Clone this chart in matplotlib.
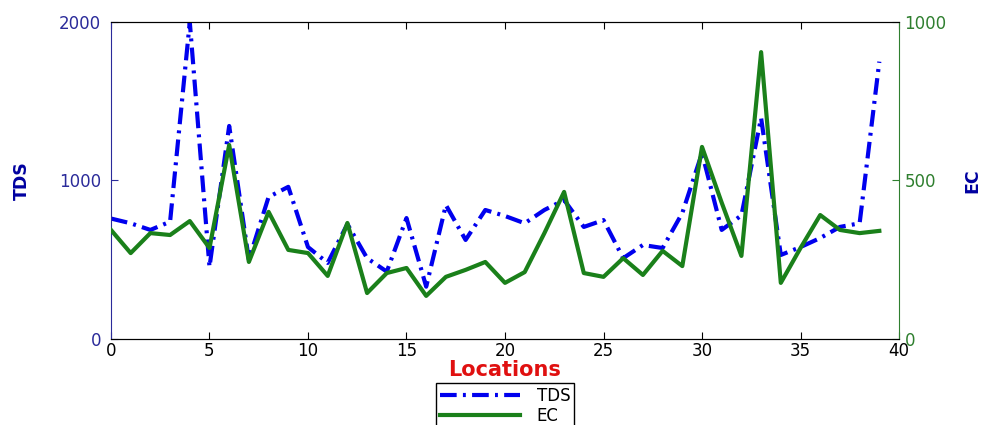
import matplotlib
matplotlib.use("Agg")
import matplotlib.pyplot as plt
import numpy as np

plt.rcParams['font.family'] = ['DejaVu Sans']

# dane: 40 lokalizacji, TDS (lewa oś) i EC (prawa oś)
locations = np.arange(40)
tds = [760, 730, 688, 740, 2000, 455, 1344, 500, 896, 960,
       580, 480, 725, 510, 425, 763, 330, 845, 625, 814,
       776, 730, 814, 877, 707, 750, 510, 593, 574, 795,
       1173, 688, 780, 1394, 530, 580, 637, 707, 730, 1750]
ec = [344, 271, 334, 328, 372, 287, 612, 243, 401, 281,
      271, 199, 366, 145, 208, 224, 136, 196, 218, 243,
      177, 211, 334, 464, 208, 196, 255, 202, 278, 230,
      606, 430, 262, 905, 177, 287, 391, 344, 334, 341]

left_color = '#2b2b9a'
right_color = '#2f7f2f'

fig = plt.figure(figsize=(9.9, 4.25), dpi=100)
ax = fig.add_axes([0.1121, 0.2024, 0.7960, 0.7458])
ax2 = ax.twinx()

l1, = ax.plot(locations, tds, color='#0000ee', lw=3,
              linestyle=(0, (4, 1.5, 0.7, 1.5)), label='TDS')
l2, = ax2.plot(locations, ec, color='#1a801a', lw=3, label='EC')

ax.set_xlim(0, 40)
ax.set_ylim(0, 2000)
ax2.set_ylim(0, 1000)
ax.set_xticks(range(0, 41, 5))
ax.set_yticks([0, 1000, 2000])
ax2.set_yticks([0, 500, 1000])

ax.tick_params(axis='x', direction='in', top=True, colors='black',
               labelsize=12, length=5, pad=2)
ax.tick_params(axis='y', direction='in', colors=left_color,
               labelsize=12, length=5, pad=7)
ax2.tick_params(axis='y', direction='in', colors=right_color,
                labelsize=12, length=5, pad=4)
ax2.tick_params(axis='x', top=False)

ax.spines['left'].set_color(left_color)
ax2.spines['left'].set_visible(False)
ax2.spines['right'].set_color(right_color)
ax.spines['right'].set_visible(False)

ax.set_ylabel('TDS', color='#0000a0', fontsize=12.5, fontweight='bold', labelpad=20)
ax2.set_ylabel('EC', color='#0000a0', fontsize=12.5, fontweight='bold', labelpad=12)
ax.set_xlabel('Locations', color='#e01010', fontsize=15, fontweight='bold', labelpad=0)

fig.legend([l1, l2], ['TDS', 'EC'], loc='upper center',
           bbox_to_anchor=(505 / 990, 1 - 383 / 425), fontsize=12,
           handlelength=4.8, handletextpad=1.0, fancybox=False,
           edgecolor='black', framealpha=1, borderaxespad=0,
           labelspacing=0.1, borderpad=0.25)

fig.savefig('out.png', dpi=100)
